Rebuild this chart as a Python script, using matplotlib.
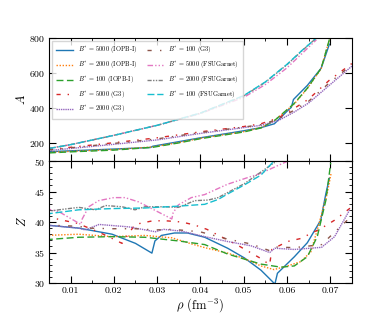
import matplotlib
matplotlib.use("Agg")
import matplotlib.pyplot as plt
from matplotlib.ticker import MultipleLocator

plt.rcParams['font.family'] = 'serif'
plt.rcParams['font.serif'] = ['cmr10', 'DejaVu Serif']
plt.rcParams['mathtext.fontset'] = 'cm'
plt.rcParams['axes.formatter.use_mathtext'] = True

# ---- top panel: mass number A vs density ----
rho_iopb5000_A = [0.005, 0.01, 0.02, 0.0285, 0.029, 0.035, 0.04, 0.045, 0.05, 0.054, 0.0571, 0.0605, 0.061, 0.0615, 0.0647, 0.0679, 0.0698]
A_iopb5000 = [153, 158, 168, 177, 184, 210, 232, 252, 272, 290, 312, 395, 405, 450, 530, 628, 765]
rho_iopb2000_A = [0.005, 0.01, 0.02, 0.029, 0.035, 0.04, 0.05, 0.054, 0.0571, 0.0617, 0.0647, 0.0679, 0.0699]
A_iopb2000 = [149, 155, 165, 180, 205, 229, 267, 290, 330, 425, 512, 626, 800]
rho_iopb100_A = [0.005, 0.01, 0.02, 0.029, 0.035, 0.04, 0.05, 0.054, 0.0571, 0.0617, 0.0647, 0.0679, 0.0699]
A_iopb100 = [146, 152, 162, 178, 203, 227, 265, 288, 330, 428, 514, 628, 800]

rho_g3_A = [0.005, 0.01, 0.02, 0.03, 0.04, 0.05, 0.054, 0.058, 0.0617, 0.065, 0.0698, 0.075]
A_g3_5000 = [166, 178, 204, 232, 266, 296, 312, 345, 400, 452, 560, 655]
A_g3_2000 = [160, 171, 195, 220, 257, 290, 303, 330, 379, 430, 531, 640]
A_g3_100 = [163, 175, 200, 226, 262, 293, 307, 338, 390, 440, 545, 648]

rho_fsu_A = [0.005, 0.01, 0.02, 0.03, 0.04, 0.05, 0.055, 0.06, 0.0635, 0.0668]
A_fsu5000 = [172, 193, 246, 303, 370, 462, 535, 630, 712, 790]
A_fsu2000 = [171, 193, 246, 303, 372, 470, 548, 648, 728, 800]
A_fsu100 = [171, 193, 246, 303, 373, 472, 550, 650, 730, 800]

# ---- bottom panel: proton number Z vs density ----
rho_iopb5000_Z = [0.0043, 0.0119, 0.0196, 0.025, 0.0288, 0.0295, 0.031, 0.034, 0.037, 0.041, 0.0463, 0.0502, 0.054, 0.0567, 0.0572, 0.0578, 0.0617, 0.0647, 0.0678, 0.069, 0.0698]
Z_iopb5000 = [39.5, 39.0, 38.0, 36.5, 34.9, 36.9, 37.8, 38.2, 38.2, 37.5, 35.7, 34.1, 32.1, 30.2, 29.8, 31.6, 34.3, 36.6, 40.3, 44.7, 47.2]
rho_iopb2000_Z = [0.0043, 0.0119, 0.0196, 0.0272, 0.0335, 0.038, 0.041, 0.0463, 0.0502, 0.054, 0.057, 0.0601, 0.0632, 0.0655, 0.067, 0.0693, 0.0702]
Z_iopb2000 = [37.8, 38.0, 37.6, 37.8, 37.4, 36.4, 35.8, 34.9, 34.0, 32.8, 32.2, 32.8, 33.5, 35.1, 38.7, 44.7, 48.0]
rho_iopb100_Z = [0.0043, 0.0119, 0.0196, 0.0272, 0.0349, 0.041, 0.0463, 0.054, 0.0586, 0.0617, 0.0647, 0.067, 0.069, 0.0701]
Z_iopb100 = [37.1, 37.5, 37.6, 37.5, 36.9, 36.3, 34.75, 33.1, 32.6, 32.8, 34.3, 37.6, 43.6, 49.7]

rho_g3_5000_Z = [0.0043, 0.0069, 0.0088, 0.0115, 0.015, 0.0185, 0.0219, 0.0249, 0.029, 0.032, 0.0357, 0.0387, 0.0415, 0.0486, 0.054, 0.056, 0.0565, 0.0601, 0.0632, 0.068, 0.071, 0.075]
Z_g3_5000 = [40.8, 40.5, 40.2, 39.8, 38.8, 37.7, 36.5, 39.6, 40.2, 40.2, 40.0, 39.5, 38.8, 36.2, 34.0, 33.0, 35.5, 36.8, 37.3, 39.0, 40.3, 42.5]
rho_g3_2000_Z = [0.0043, 0.0119, 0.0134, 0.0166, 0.0235, 0.0296, 0.0315, 0.0357, 0.041, 0.0463, 0.0517, 0.056, 0.0572, 0.0617, 0.068, 0.071, 0.0745]
Z_g3_2000 = [39.5, 39.0, 38.7, 39.6, 39.2, 38.4, 38.8, 38.5, 37.6, 36.8, 36.1, 35.0, 35.7, 35.5, 35.85, 37.6, 42.0]
rho_g3_100_Z = [0.0043, 0.0119, 0.014, 0.0196, 0.025, 0.0296, 0.0335, 0.0399, 0.0463, 0.0517, 0.056, 0.0572, 0.0617, 0.068, 0.072, 0.075]
Z_g3_100 = [39.5, 39.3, 39.0, 38.9, 38.9, 38.7, 38.8, 38.4, 37.2, 36.4, 35.3, 35.9, 35.8, 36.3, 39.0, 41.0]

rho_fsu5000_Z = [0.0043, 0.0073, 0.0124, 0.0127, 0.0142, 0.0165, 0.02, 0.0226, 0.0257, 0.0334, 0.0337, 0.0349, 0.0379, 0.041, 0.0463, 0.054, 0.0593, 0.062]
Z_fsu5000 = [42.2, 41.7, 39.6, 40.5, 42.5, 43.5, 44.0, 44.0, 43.3, 40.5, 41.5, 42.8, 44.0, 44.5, 46.2, 48.0, 49.7, 50.5]
rho_fsu2000_Z = [0.0043, 0.0073, 0.0119, 0.0158, 0.0181, 0.0219, 0.0249, 0.0272, 0.0319, 0.0349, 0.0387, 0.0418, 0.0441, 0.0502, 0.057, 0.059]
Z_fsu2000 = [41.7, 42.0, 42.4, 42.0, 42.7, 42.5, 42.0, 42.5, 42.5, 42.4, 43.5, 43.6, 44.0, 46.3, 49.7, 50.5]
rho_fsu100_Z = [0.0043, 0.0119, 0.0196, 0.0272, 0.0349, 0.041, 0.0441, 0.0463, 0.0502, 0.054, 0.057, 0.059]
Z_fsu100 = [41.3, 42.0, 42.2, 42.3, 42.6, 42.9, 43.7, 44.6, 46.1, 47.7, 50.0, 51.0]

labels = [r'$B^{*}$ = 5000 (IOPB-I)', r'$B^{*}$ = 2000 (IOPB-I)', r'$B^{*}$ = 100 (IOPB-I)',
          r'$B^{*}$ = 5000 (G3)', r'$B^{*}$ = 2000 (G3)', r'$B^{*}$ = 100 (G3)',
          r'$B^{*}$ = 5000 (FSUGarnet)', r'$B^{*}$ = 2000 (FSUGarnet)', r'$B^{*}$ = 100 (FSUGarnet)']
colors = ['tab:blue', 'tab:orange', 'tab:green', 'tab:red', 'tab:purple', 'tab:brown',
          'tab:pink', 'tab:gray', 'tab:cyan']
styles = ['-', (0, (1, 1.2)), (0, (5, 2.5)), (0, (3, 5, 1, 5)), (0, (1, 0.6)),
          (0, (3, 6, 1, 6)), (0, (4, 1.5, 1, 1.5, 1, 1.5)), (0, (3, 1, 1, 1, 1, 1)), (0, (5, 2))]

top_data = [(rho_iopb5000_A, A_iopb5000), (rho_iopb2000_A, A_iopb2000), (rho_iopb100_A, A_iopb100),
            (rho_g3_A, A_g3_5000), (rho_g3_A, A_g3_2000), (rho_g3_A, A_g3_100),
            (rho_fsu_A, A_fsu5000), (rho_fsu_A, A_fsu2000), (rho_fsu_A, A_fsu100)]
bot_data = [(rho_iopb5000_Z, Z_iopb5000), (rho_iopb2000_Z, Z_iopb2000), (rho_iopb100_Z, Z_iopb100),
            (rho_g3_5000_Z, Z_g3_5000), (rho_g3_2000_Z, Z_g3_2000), (rho_g3_100_Z, Z_g3_100),
            (rho_fsu5000_Z, Z_fsu5000), (rho_fsu2000_Z, Z_fsu2000), (rho_fsu100_Z, Z_fsu100)]

fig = plt.figure(figsize=(3.91, 3.18), dpi=100)
ax1 = fig.add_axes([0.125, 0.4937, 0.775, 0.3868])
ax2 = fig.add_axes([0.125, 0.110, 0.775, 0.3837], sharex=ax1)

for (x, y), lab, c, ls in zip(top_data, labels, colors, styles):
    ax1.plot(x, y, color=c, ls=ls, lw=1.0, label=lab)
for (x, y), c, ls in zip(bot_data, colors, styles):
    ax2.plot(x, y, color=c, ls=ls, lw=1.0)

ax1.set_xlim(0.005, 0.075)
ax1.set_ylim(100, 800)
ax2.set_ylim(30, 50)
ax1.yaxis.set_major_locator(MultipleLocator(200))
ax2.yaxis.set_major_locator(MultipleLocator(5))
ax2.yaxis.set_minor_locator(MultipleLocator(1))
ax2.xaxis.set_major_locator(MultipleLocator(0.01))
ax2.xaxis.set_minor_locator(MultipleLocator(0.005))
ax2.set_xticks([0.01, 0.02, 0.03, 0.04, 0.05, 0.06, 0.07])
ax2.set_xticklabels(['0.01', '0.02', '0.03', '0.04', '0.05', '0.06', '0.07'])

for ax in (ax1, ax2):
    ax.tick_params(which='both', direction='in', top=True, right=True, labelsize=7, pad=2.5)
    ax.tick_params(which='major', length=5, width=0.8)
    ax.tick_params(which='minor', length=2.5, width=0.6)
plt.setp(ax1.get_xticklabels(), visible=False)

ax1.set_ylabel(r'$A$', fontsize=9, labelpad=1)
ax2.set_ylabel(r'$Z$', fontsize=9, labelpad=4)
ax2.set_xlabel(r'$\rho$ (fm$^{-3}$)', fontsize=9, labelpad=1)

ax1.legend(loc='upper left', ncol=2, fontsize=4.6, handlelength=2.6, columnspacing=1.5,
           labelspacing=0.55, frameon=True, fancybox=False, edgecolor='0.8', borderpad=0.6)

fig.savefig('out.png', dpi=100)
